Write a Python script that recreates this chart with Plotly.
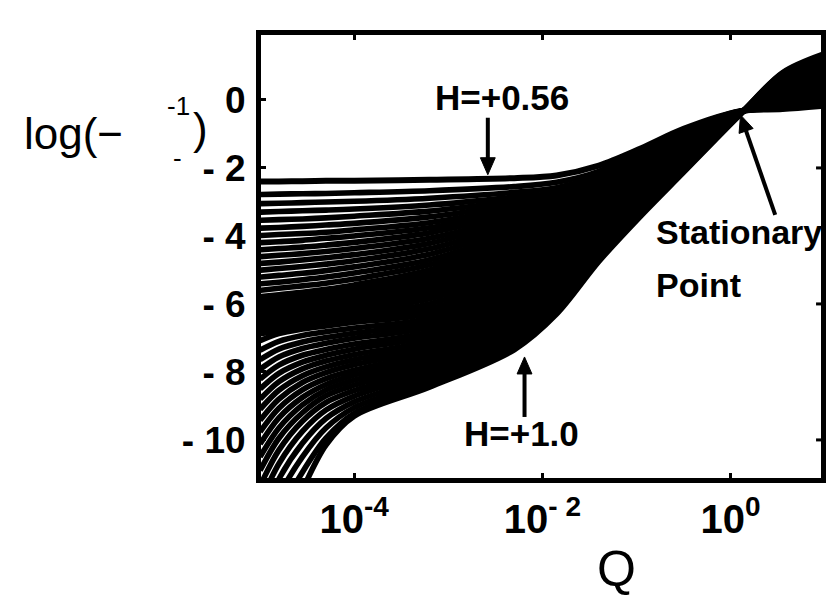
import plotly.graph_objects as go

# log10(Q) sample positions at which every curve is tabulated
LOG_Q = [-5.0, -4.8, -4.55, -4.3, -4.0, -3.2, -2.3, -1.85, -1.4, -0.95, -0.5, 0.1, 0.55, 1.0]

# exponent H of each curve, from +0.56 (top at small Q) to +1.0 (bottom)
H_VALUES = [0.56, 0.57, 0.58, 0.59, 0.60, 0.61, 0.62, 0.63, 0.64, 0.65,
            0.66, 0.67, 0.68, 0.69, 0.70, 0.71, 0.72, 0.73, 0.74, 0.75,
            0.76, 0.77, 0.78, 0.79, 0.80, 0.81, 0.82, 0.83, 0.84, 0.85,
            0.86, 0.87, 0.88, 0.89, 0.90, 0.91, 0.92, 0.93, 0.94, 0.95,
            0.96, 0.97, 0.98, 0.99, 1.00]

# log(-Gamma^-1) for each H (rows) at the LOG_Q positions (columns)
LOG_RATE = [
    [-2.40, -2.40, -2.39, -2.38, -2.38, -2.35, -2.30, -2.22, -1.93, -1.42, -0.85, -0.33, -0.27, -0.17],
    [-2.78, -2.77, -2.76, -2.75, -2.73, -2.67, -2.55, -2.42, -2.10, -1.47, -0.88, -0.33, -0.25, -0.14],
    [-3.05, -3.04, -3.02, -3.00, -2.98, -2.89, -2.72, -2.58, -2.22, -1.51, -0.91, -0.34, -0.22, -0.10],
    [-3.30, -3.28, -3.26, -3.24, -3.21, -3.09, -2.86, -2.72, -2.33, -1.56, -0.94, -0.34, -0.20, -0.07],
    [-3.54, -3.52, -3.50, -3.47, -3.42, -3.27, -2.98, -2.85, -2.44, -1.60, -0.97, -0.34, -0.17, -0.03],
    [-3.77, -3.75, -3.72, -3.68, -3.63, -3.44, -3.09, -2.94, -2.54, -1.65, -1.00, -0.34, -0.15, 0.00],
    [-3.99, -3.96, -3.93, -3.89, -3.82, -3.61, -3.19, -3.02, -2.60, -1.69, -1.02, -0.34, -0.12, 0.04],
    [-4.20, -4.17, -4.13, -4.07, -4.00, -3.76, -3.28, -3.11, -2.65, -1.74, -1.05, -0.35, -0.10, 0.07],
    [-4.41, -4.37, -4.33, -4.27, -4.19, -3.91, -3.37, -3.20, -2.71, -1.78, -1.08, -0.35, -0.08, 0.11],
    [-4.61, -4.57, -4.52, -4.46, -4.37, -4.07, -3.48, -3.28, -2.77, -1.83, -1.11, -0.35, -0.05, 0.14],
    [-4.81, -4.77, -4.71, -4.64, -4.55, -4.22, -3.59, -3.37, -2.82, -1.87, -1.14, -0.35, -0.03, 0.18],
    [-5.01, -4.96, -4.90, -4.83, -4.73, -4.38, -3.70, -3.45, -2.88, -1.92, -1.17, -0.36, 0.00, 0.21],
    [-5.21, -5.16, -5.10, -5.02, -4.91, -4.54, -3.81, -3.54, -2.94, -1.96, -1.20, -0.36, 0.02, 0.25],
    [-5.41, -5.36, -5.29, -5.21, -5.09, -4.70, -3.92, -3.63, -2.99, -2.01, -1.23, -0.36, 0.05, 0.28],
    [-5.60, -5.54, -5.47, -5.39, -5.27, -4.85, -4.03, -3.71, -3.05, -2.05, -1.26, -0.36, 0.07, 0.32],
    [-5.79, -5.73, -5.66, -5.57, -5.44, -5.00, -4.14, -3.80, -3.11, -2.10, -1.29, -0.36, 0.10, 0.35],
    [-5.93, -5.83, -5.76, -5.67, -5.54, -5.10, -4.25, -3.89, -3.16, -2.14, -1.32, -0.37, 0.12, 0.39],
    [-6.04, -5.94, -5.86, -5.77, -5.64, -5.21, -4.36, -3.97, -3.22, -2.19, -1.34, -0.37, 0.14, 0.42],
    [-6.14, -6.04, -5.96, -5.87, -5.74, -5.31, -4.47, -4.06, -3.28, -2.23, -1.37, -0.37, 0.17, 0.46],
    [-6.25, -6.15, -6.06, -5.97, -5.84, -5.41, -4.58, -4.14, -3.33, -2.28, -1.40, -0.37, 0.19, 0.49],
    [-6.35, -6.25, -6.16, -6.07, -5.94, -5.51, -4.69, -4.23, -3.39, -2.32, -1.43, -0.38, 0.22, 0.53],
    [-6.46, -6.36, -6.26, -6.17, -6.04, -5.62, -4.80, -4.32, -3.45, -2.37, -1.46, -0.38, 0.24, 0.56],
    [-6.56, -6.46, -6.36, -6.27, -6.14, -5.72, -4.91, -4.40, -3.51, -2.41, -1.49, -0.38, 0.27, 0.60],
    [-6.67, -6.57, -6.47, -6.37, -6.24, -5.85, -5.02, -4.49, -3.56, -2.46, -1.52, -0.38, 0.29, 0.63],
    [-6.77, -6.67, -6.57, -6.47, -6.34, -6.00, -5.14, -4.58, -3.62, -2.50, -1.55, -0.39, 0.31, 0.66],
    [-6.88, -6.78, -6.67, -6.56, -6.44, -6.14, -5.25, -4.66, -3.68, -2.55, -1.58, -0.39, 0.34, 0.70],
    [-7.08, -6.87, -6.74, -6.65, -6.54, -6.28, -5.36, -4.75, -3.73, -2.59, -1.61, -0.39, 0.36, 0.73],
    [-7.36, -7.10, -6.93, -6.82, -6.71, -6.42, -5.47, -4.83, -3.79, -2.64, -1.64, -0.39, 0.39, 0.77],
    [-7.64, -7.33, -7.12, -6.99, -6.86, -6.55, -5.58, -4.92, -3.85, -2.68, -1.66, -0.39, 0.41, 0.80],
    [-7.92, -7.56, -7.31, -7.16, -7.01, -6.68, -5.69, -5.01, -3.90, -2.73, -1.69, -0.40, 0.44, 0.84],
    [-8.21, -7.80, -7.51, -7.34, -7.18, -6.82, -5.80, -5.09, -3.96, -2.77, -1.72, -0.40, 0.46, 0.87],
    [-8.50, -8.04, -7.71, -7.51, -7.33, -6.94, -5.91, -5.18, -4.02, -2.82, -1.75, -0.40, 0.48, 0.91],
    [-8.80, -8.29, -7.91, -7.68, -7.49, -7.07, -6.02, -5.26, -4.07, -2.86, -1.78, -0.40, 0.51, 0.94],
    [-9.10, -8.54, -8.11, -7.85, -7.64, -7.19, -6.13, -5.35, -4.13, -2.91, -1.81, -0.41, 0.53, 0.98],
    [-9.42, -8.80, -8.31, -8.02, -7.79, -7.31, -6.24, -5.44, -4.19, -2.95, -1.84, -0.41, 0.56, 1.01],
    [-9.76, -9.07, -8.53, -8.20, -7.95, -7.43, -6.35, -5.52, -4.24, -3.00, -1.87, -0.41, 0.58, 1.05],
    [-10.12, -9.35, -8.75, -8.37, -8.09, -7.54, -6.46, -5.61, -4.30, -3.04, -1.90, -0.41, 0.61, 1.08],
    [-10.50, -9.65, -8.97, -8.53, -8.24, -7.65, -6.57, -5.70, -4.36, -3.09, -1.93, -0.41, 0.63, 1.12],
    [-10.90, -9.95, -9.20, -8.70, -8.39, -7.76, -6.68, -5.78, -4.41, -3.13, -1.96, -0.42, 0.65, 1.15],
    [-11.35, -10.30, -9.45, -8.90, -8.55, -7.88, -6.79, -5.87, -4.47, -3.18, -1.98, -0.42, 0.68, 1.19],
    [-11.85, -10.70, -9.75, -9.12, -8.71, -8.00, -6.90, -5.95, -4.53, -3.22, -2.01, -0.42, 0.70, 1.22],
    [-12.40, -11.15, -10.10, -9.37, -8.88, -8.13, -7.02, -6.04, -4.58, -3.27, -2.04, -0.42, 0.73, 1.26],
    [-13.00, -11.65, -10.50, -9.65, -9.05, -8.25, -7.13, -6.13, -4.64, -3.31, -2.07, -0.43, 0.75, 1.29],
    [-13.60, -12.20, -10.95, -9.95, -9.22, -8.37, -7.24, -6.21, -4.70, -3.36, -2.10, -0.43, 0.78, 1.33],
    [-14.30, -12.80, -11.45, -10.15, -9.30, -8.45, -7.35, -6.30, -4.75, -3.40, -2.13, -0.43, 0.80, 1.36],
]

X_TICKS = [1e-4, 1e-2, 1e0]
X_TICK_TEXT = ["10<sup>-4</sup>", "10<sup>- 2</sup>", "10<sup>0</sup>"]
Y_TICKS = [2, 0, -2, -4, -6, -8, -10]
Y_TICK_TEXT = ["2", "0", "- 2", "- 4", "- 6", "- 8", "- 10"]
Y_RIGHT_TICKS = [-2, -6, -10]

FONT = "Liberation Sans, Arial, Helvetica, sans-serif"

# plot-area geometry in pixels (figure 830 x 601)
PLOT_L, PLOT_T, PLOT_R, PLOT_B = 261, 35, 826, 478
PLOT_W, PLOT_H = PLOT_R - PLOT_L, PLOT_B - PLOT_T
X_RANGE = [-4.99, 0.96]
Y_RANGE = [-11.12, 1.91]


def paper_x(px):
    return (px - PLOT_L) / PLOT_W


def paper_y(py):
    return (PLOT_B - py) / PLOT_H


def px_of_logq(lq):
    return PLOT_L + (lq - X_RANGE[0]) / (X_RANGE[1] - X_RANGE[0]) * PLOT_W


def py_of_val(v):
    return PLOT_B - (v - Y_RANGE[0]) / (Y_RANGE[1] - Y_RANGE[0]) * PLOT_H


q_values = [10 ** v for v in LOG_Q]

fig = go.Figure()
for h, row in zip(H_VALUES, LOG_RATE):
    fig.add_trace(go.Scatter(
        x=q_values, y=row, mode="lines", name=f"H=+{h:.2f}",
        line=dict(color="black", width=6 if h == H_VALUES[0] else 5.6,
                  shape="spline", smoothing=0.9),
        hoverinfo="skip", showlegend=False,
    ))

fig.update_layout(
    width=830, height=601,
    margin=dict(l=PLOT_L, r=830 - PLOT_R, t=PLOT_T, b=601 - PLOT_B, pad=0),
    plot_bgcolor="white", paper_bgcolor="white",
    showlegend=False,
    xaxis=dict(
        type="log", range=X_RANGE, tickvals=X_TICKS, ticktext=X_TICK_TEXT,
        ticks="inside", ticklen=5, tickwidth=3, tickcolor="black",
        showline=True, linewidth=5, linecolor="black", mirror="ticks",
        showgrid=False, zeroline=False, ticklabelstandoff=2,
        tickfont=dict(family=FONT, size=40, color="black", weight="bold"),
    ),
    yaxis=dict(
        range=Y_RANGE, tickvals=Y_TICKS, ticktext=Y_TICK_TEXT,
        ticks="inside", ticklen=5, tickwidth=3, tickcolor="black",
        showline=True, linewidth=5, linecolor="black", mirror=True,
        showgrid=False, zeroline=False, ticklabelstandoff=3,
        tickfont=dict(family=FONT, size=37, color="black", weight="bold"),
    ),
)

# short inward ticks on the right-hand frame
for v in Y_RIGHT_TICKS:
    fig.add_shape(type="line", xref="paper", yref="y",
                  x0=paper_x(PLOT_R), x1=paper_x(PLOT_R - 5), y0=v, y1=v,
                  line=dict(color="black", width=3))


def label(text, px, py, size=35, bold=True, xanchor="center"):
    fig.add_annotation(
        xref="paper", yref="paper", x=paper_x(px), y=paper_y(py),
        text=f"<b>{text}</b>" if bold else text, showarrow=False,
        xanchor=xanchor, yanchor="middle",
        font=dict(family=FONT, size=size, color="black"),
    )


def arrow(tip_logq, tip_val, dx, dy, head_len=17, head_half=7.5, width=4):
    """Straight arrow with a filled head; the tail sits dx, dy pixels from the tip."""
    tx, ty = px_of_logq(tip_logq), py_of_val(tip_val)
    sx, sy = tx + dx, ty + dy
    length = (dx * dx + dy * dy) ** 0.5
    ux, uy = -dx / length, -dy / length          # unit vector tail -> tip
    bx, by = tx - ux * head_len, ty - uy * head_len
    fig.add_shape(type="line", xref="paper", yref="paper",
                  x0=paper_x(sx), y0=paper_y(sy),
                  x1=paper_x(bx + ux * 2), y1=paper_y(by + uy * 2),
                  line=dict(color="black", width=width))
    nx, ny = -uy, ux
    pts = [(tx, ty), (bx + nx * head_half, by + ny * head_half),
           (bx - nx * head_half, by - ny * head_half)]
    path = "M " + " L ".join(f"{paper_x(x):.5f},{paper_y(y):.5f}" for x, y in pts) + " Z"
    fig.add_shape(type="path", xref="paper", yref="paper", path=path,
                  fillcolor="black", line=dict(color="black", width=1))


# curve labels
label("H=+0.56", 504, 97)
arrow(-2.58, -2.2, 0, -57)
label("H=+1.0", 524, 433)
arrow(-2.19, -7.56, 0, 60)
label("Stationary", 658, 232, size=34, xanchor="left")
label("Point", 658, 285, size=34, xanchor="left")
arrow(0.105, -0.44, 35, 100)

# axis titles
label("Q", 620, 569, size=50, bold=False)
label("log(\u2212", 20, 133, size=44, bold=False, xanchor="left")
label("-1", 178, 106, size=26, bold=False)
label("-", 177, 158, size=26, bold=False)
label(")", 200, 128, size=44, bold=False)

fig.write_html("out.html")
